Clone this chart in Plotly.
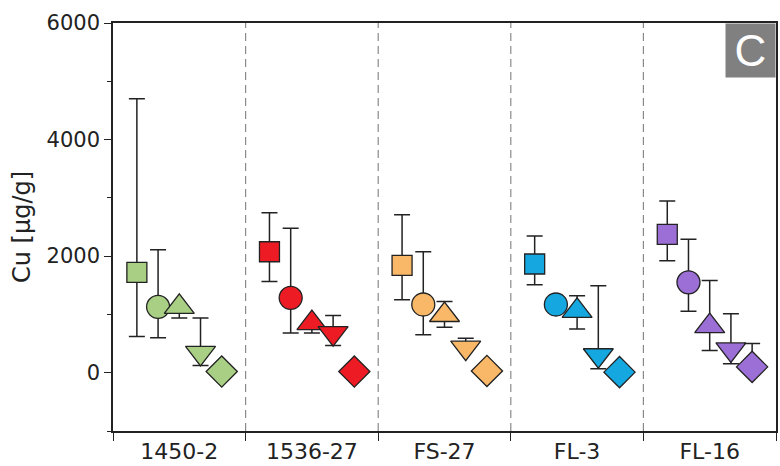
import plotly.graph_objects as go

groups = ["1450-2", "1536-27", "FS-27", "FL-3", "FL-16"]
colors = ["#A8CF84", "#ED1C24", "#F9B768", "#14A7E0", "#9B6FD6"]

# values per shape (one per group) and asymmetric error bars (upper, lower)
square_val = [1720, 2075, 1840, 1865, 2375]
square_up = [2980, 670, 870, 480, 570]
square_dn = [1100, 510, 590, 355, 455]

circle_val = [1130, 1285, 1170, 1170, 1550]
circle_up = [980, 1195, 905, 0, 740]
circle_dn = [530, 605, 520, 0, 495]

triup_val = [1130, 850, 990, 1060, 800]
triup_up = [0, 0, 230, 260, 780]
triup_dn = [190, 170, 210, 310, 420]

tridn_val = [340, 680, 430, 300, 400]
tridn_up = [600, 300, 160, 1190, 610]
tridn_dn = [215, 215, 0, 232, 245]

diam_val = [20, 20, 30, 10, 100]
diam_up = [0, 0, 0, 0, 400]
diam_dn = [0, 0, 0, 0, 0]

shapes_def = [
    ("square", square_val, square_up, square_dn, -0.32, 20),
    ("circle", circle_val, circle_up, circle_dn, -0.16, 23),
    ("triangle-up", triup_val, triup_up, triup_dn, 0.0, 26),
    ("triangle-down", tridn_val, tridn_up, tridn_dn, 0.16, 26),
    ("diamond", diam_val, diam_up, diam_dn, 0.32, 24),
]

FONT = "DejaVu Sans, Liberation Sans, Arial, sans-serif"

fig = go.Figure()
for sym, vals, up, dn, off, size in shapes_def:
    xs = [i + 0.5 + off for i in range(len(groups))]
    fig.add_trace(go.Scatter(
        x=xs, y=vals, mode="markers",
        marker=dict(symbol=sym, size=size, color=colors,
                    line=dict(color="#222222", width=1.3)),
        error_y=dict(type="data", symmetric=False, array=up, arrayminus=dn,
                     color="#222222", thickness=1.5, width=8),
        showlegend=False, hoverinfo="skip",
    ))

# dashed group separators
for b in range(1, len(groups)):
    fig.add_shape(type="line", xref="x", yref="paper", x0=b, x1=b, y0=0, y1=1,
                  line=dict(color="#8a8a8a", width=1.2, dash="8px,5px"), layer="below")

# "C" panel label
fig.add_annotation(text="C", xref="paper", yref="paper", x=1.0, y=1.0,
                   xanchor="right", yanchor="top", showarrow=False,
                   width=49, height=53, bgcolor="#808080", borderpad=0,
                   font=dict(size=44, color="white", family="Liberation Sans Narrow, Liberation Sans, Arial"))

fig.update_layout(
    width=780, height=466,
    margin=dict(l=113, r=2, t=23, b=34),
    paper_bgcolor="white", plot_bgcolor="white",
    font=dict(family=FONT, size=21, color="#222222"),
    xaxis=dict(range=[0, 5], tickvals=[i + 0.5 for i in range(len(groups))], ticktext=groups,
               ticks="", showgrid=False, zeroline=False, showline=True, linecolor="#222222",
               linewidth=1.6, mirror=True, tickfont=dict(size=22, family=FONT),
               minor=dict(tickvals=list(range(0, len(groups) + 1)), ticks="outside",
                          ticklen=8, tickcolor="#222222", tickwidth=1.3, showgrid=False)),
    yaxis=dict(range=[-1000, 6000], tickvals=[0, 2000, 4000, 6000], ticks="outside",
               ticklen=7, tickcolor="#222222", tickwidth=1.3, showgrid=False, zeroline=False,
               showline=True, linecolor="#222222", linewidth=1.6, mirror=True,
               tickfont=dict(size=21, family=FONT),
               minor=dict(dtick=1000, ticks="outside", ticklen=4, tickcolor="#222222", showgrid=False),
               title=dict(text="Cu [µg/g]", font=dict(size=24, family=FONT), standoff=9)),
)

fig.write_html("out.html")
